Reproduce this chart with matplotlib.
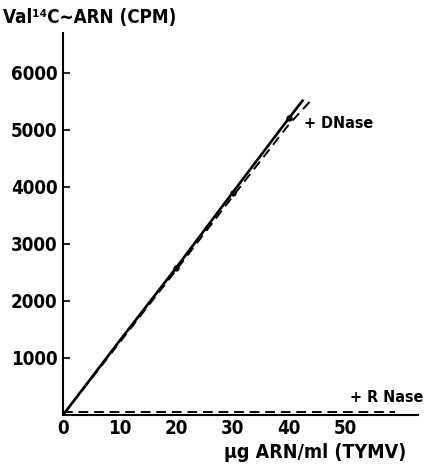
import matplotlib
matplotlib.use("Agg")
import matplotlib.pyplot as plt

# Data
control_x = [0, 10, 20, 30, 40, 42.5]
control_y = [0, 1300, 2580, 3900, 5210, 5530]
dnase_x = [0, 10, 20, 30, 40, 43.7]
dnase_y = [0, 1270, 2540, 3830, 5100, 5500]
rnase_x = [0, 10, 20, 30, 40, 50, 58.8]
rnase_y = [50, 50, 50, 50, 50, 50, 50]
marker_x = [20, 30, 40]
marker_y = [2580, 3900, 5210]
xticks = [0, 10, 20, 30, 40, 50]
yticks = [1000, 2000, 3000, 4000, 5000, 6000]

plt.rcParams['font.family'] = ["DejaVu Sans"]
plt.rcParams['font.stretch'] = 'condensed'
plt.rcParams['font.weight'] = 'bold'

fig = plt.figure(figsize=(4.29, 4.74), dpi=100)
ax = fig.add_axes([63/429, 59/474, 355/429, 382/474])

ax.plot(control_x, control_y, color='black', lw=1.9, solid_capstyle='butt')
ax.plot(marker_x, marker_y, 'o', color='black', ms=3.5)
ax.plot(dnase_x, dnase_y, color='black', lw=1.4, dashes=(5, 3))
ax.plot(rnase_x, rnase_y, color='black', lw=1.4, dashes=(5, 3))

ax.set_xlim(0, 62.8)
ax.set_ylim(0, 6700)
for s in ['top', 'right']:
    ax.spines[s].set_visible(False)
for s in ['left', 'bottom']:
    ax.spines[s].set_linewidth(1.5)
    ax.spines[s].set_color('black')

ax.set_xticks(xticks)
ax.set_xticklabels([str(v) for v in xticks], fontsize=13.5, fontweight='bold')
ax.set_yticks(yticks)
ax.set_yticklabels([str(v) for v in yticks], fontsize=13.5, fontweight='bold')
ax.tick_params(axis='y', direction='in', length=5, width=1.2, pad=4)
ax.tick_params(axis='x', length=0, pad=3)

ax.text(42.6, 5105, "+ DNase", fontsize=11.5, fontweight='bold', va='center', ha='left')
ax.text(63.7, 300, "+ R Nase", fontsize=11.5, fontweight='bold', va='center', ha='right', clip_on=False)

fig.text(315/429, 1 - 452/474, "μg ARN/ml (TYMV)", fontsize=14, fontweight='bold',
         ha='center', va='center')
fig.text(3/429, 1 - 17/474, "Val¹⁴C~ARN (CPM)", fontsize=13.5, fontweight='bold',
         ha='left', va='center')

fig.savefig("out.png", dpi=100)
